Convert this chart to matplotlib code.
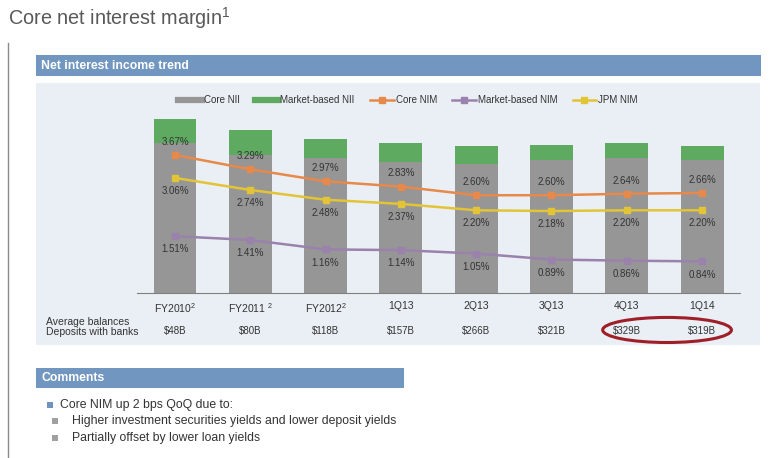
"""
Core net interest margin slide: NII bars with NIM lines.
"""

import matplotlib
matplotlib.use("Agg")
import matplotlib.pyplot as plt
from matplotlib.lines import Line2D
from matplotlib.patches import Rectangle, Ellipse

plt.rcParams["font.family"] = ["Liberation Sans", "DejaVu Sans"]
plt.rcParams["mathtext.fontset"] = "custom"
plt.rcParams["mathtext.rm"] = "Liberation Sans"
plt.rcParams["mathtext.default"] = "regular"

# data
periods = ["FY2010$^2$", "FY2011 $^2$", "FY2012$^2$", "1Q13", "2Q13", "3Q13", "4Q13", "1Q14"]
core_nii = [12.0, 11.05, 10.8, 10.5, 10.3, 10.65, 10.8, 10.65]
market_nii = [1.9, 2.0, 1.5, 1.5, 1.45, 1.2, 1.2, 1.1]
core_nim = [3.67, 3.29, 2.97, 2.83, 2.60, 2.60, 2.64, 2.66]
market_nim = [1.51, 1.41, 1.16, 1.14, 1.05, 0.89, 0.86, 0.84]
jpm_nim = [3.06, 2.74, 2.48, 2.37, 2.20, 2.18, 2.20, 2.20]
deposits = ["$48B", "$80B", "$118B", "$157B", "$266B", "$321B", "$329B", "$319B"]
comments = [
    "Core NIM up 2 bps QoQ due to:",
    "Higher investment securities yields and lower deposit yields",
    "Partially offset by lower loan yields",
]

GRAY = "#969696"
GREEN = "#5DAA60"
ORANGE = "#E6894A"
PURPLE = "#9A82AD"
YELLOW = "#E2C436"
BLUE = "#7196BF"
TEXT = "#333333"

W, H = 770, 458
fig = plt.figure(figsize=(W / 100, H / 100), dpi=100)


def box(x0, y0, x1, y1, color):
    """Rectangle given in pixel coords from top-left."""
    fig.add_artist(Rectangle((x0 / W, 1 - y1 / H), (x1 - x0) / W, (y1 - y0) / H,
                             transform=fig.transFigure, color=color, lw=0, zorder=0))


def ftext(x, y, s, **kw):
    fig.text(x / W, 1 - y / H, s, **kw)


# slide decoration
ftext(8, 18, "Core net interest margin$^1$", fontsize=14.3, color="#595959", va="center")
fig.add_artist(Line2D([8 / W, 8 / W], [1 - 43 / H, 0], transform=fig.transFigure,
                      color="#8c8c8c", lw=1))
box(36, 55, 761, 76, BLUE)
ftext(41, 66, "Net interest income trend", fontsize=8.8, color="white",
      weight="bold", va="center")
box(36, 83, 760, 345, "#E9EFF4")
box(36, 368, 404, 388, BLUE)
ftext(41, 378, "Comments", fontsize=8.8, color="white", weight="bold", va="center")

# comments
box(47, 402, 53, 408, "#6F93BD")
ftext(60, 405, comments[0], fontsize=8.8, color=TEXT, va="center")
for i, line in enumerate(comments[1:]):
    y = 421 + i * 17
    box(52, y - 3, 58, y + 3, "#A0A0A0")
    ftext(72, y, line, fontsize=8.8, color=TEXT, va="center")

# chart axes
ax = fig.add_axes([137 / W, 1 - 293 / H, (740 - 137) / W, (293 - 110) / H])
ax.patch.set_alpha(0)
x = list(range(len(periods)))
ax.bar(x, core_nii, width=0.57, color=GRAY, zorder=2)
ax.bar(x, market_nii, width=0.57, bottom=core_nii, color=GREEN, zorder=2)
ax.set_xlim(-0.505, 7.504)
ax.set_ylim(0, 183 / 12.5)
ax.set_yticks([])
ax.set_xticks(x)
ax.set_xticklabels(periods, fontsize=7.5, color=TEXT)
ax.tick_params(axis="x", length=0, pad=6)
for side in ["top", "right", "left"]:
    ax.spines[side].set_visible(False)
ax.spines["bottom"].set_color("#808080")

ax2 = ax.twinx()
ax2.set_ylim(0, 183 / 37.6)
ax2.set_yticks([])
for side in ["top", "right", "left", "bottom"]:
    ax2.spines[side].set_visible(False)

series = [
    (core_nim, ORANGE, 9.5),
    (market_nim, PURPLE, -9.5),
    (jpm_nim, YELLOW, -9.5),
]
for values, color, dy in series:
    ax2.plot(x, values, color=color, lw=1.8, marker="s", markersize=5, zorder=3)
    for xi, v in zip(x, values):
        ax2.annotate(f"{v:.2f}%", (xi, v), xytext=(0, dy), textcoords="offset points",
                     ha="center", va="center", fontsize=7, color=TEXT)

# deposit balances row
trans = ax.get_xaxis_transform()
for xi, d in zip(x, deposits):
    ax.text(xi, -0.208, d.replace("$", r"\$"), transform=trans, ha="center",
            va="center", fontsize=7, color=TEXT)
ftext(46, 327, "Average balances\nDeposits with banks", fontsize=7.5, color=TEXT,
      va="center", linespacing=1.0)
ax.add_patch(Ellipse((6.535, -0.202), 1.71, 0.137, transform=trans, fill=False,
                     edgecolor="#9E1F28", lw=2.2, clip_on=False))

# legend
handles = [
    Line2D([], [], color=GRAY, lw=4.5),
    Line2D([], [], color=GREEN, lw=4.5),
    Line2D([], [], color=ORANGE, lw=1.8, marker="s", markersize=5),
    Line2D([], [], color=PURPLE, lw=1.8, marker="s", markersize=5),
    Line2D([], [], color=YELLOW, lw=1.8, marker="s", markersize=5),
]
labels = ["Core NII", "Market-based NII", "Core NIM", "Market-based NIM", "JPM NIM"]
fig.legend(handles, labels, loc="center", bbox_to_anchor=(408 / W, 1 - 100 / H),
           ncol=5, frameon=False, fontsize=7, handlelength=2.4, handletextpad=0.2,
           columnspacing=1.6, labelcolor=TEXT)

fig.savefig("out.png", dpi=100)
